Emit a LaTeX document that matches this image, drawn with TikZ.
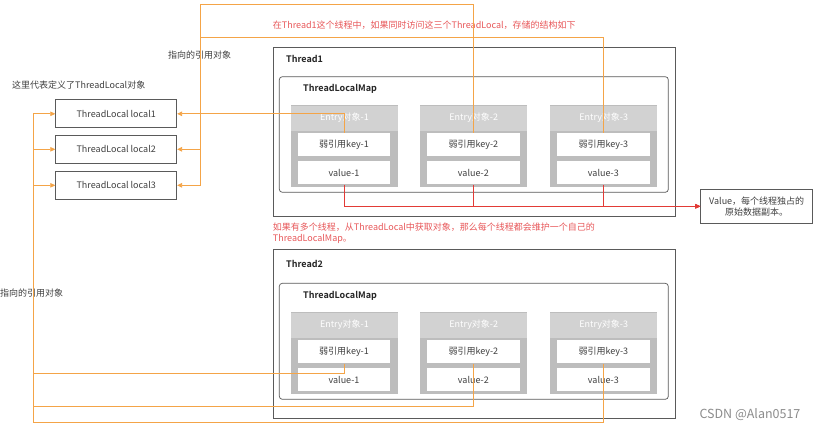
\documentclass[tikz,border=0pt]{standalone}
\usepackage{fontspec}
\setmainfont{Noto Sans CJK SC}[BoldFont={Noto Sans CJK SC Bold}]
\usetikzlibrary{arrows.meta,calc}
\definecolor{ora}{HTML}{F4A447}
\definecolor{redt}{HTML}{E8585A}
\definecolor{redl}{HTML}{E23B36}
\definecolor{hdrgray}{HTML}{D2D2D2}
\definecolor{bodygray}{HTML}{BDBDBD}
\definecolor{txt}{HTML}{404040}
\definecolor{frame}{HTML}{5A5A5A}
\tikzset{
  base/.style={font=\fontsize{9bp}{11bp}\selectfont, text=txt, inner sep=0pt},
  localbox/.style={base, draw=frame, line width=0.8bp, minimum width=121bp, minimum height=28bp},
  hdr/.style={base, fill=hdrgray, text=white, minimum width=107bp, minimum height=25bp},
  cell/.style={base, fill=white, minimum width=92.3bp, minimum height=23.5bp},
  plain/.style={base},
  redtext/.style={base, text=redt},
  bold/.style={base, font=\fontsize{9bp}{11bp}\selectfont\bfseries, text=black!85},
  ref/.style={draw=ora, line width=0.8bp, -{Triangle[length=5bp,width=4.5bp]}},
  val/.style={draw=redl, line width=0.8bp, -{Triangle[length=5bp,width=4.5bp]}},
  threadbox/.style={draw=frame, line width=0.8bp},
  mapbox/.style={draw=frame, line width=0.7bp, rounded corners=3bp},
}
\newcommand\myentry[4]{%
  \fill[bodygray] (#2,#3) rectangle ++(107,81.4);
  \node[hdr, anchor=north west] (#1h#4) at (#2,#3) {Entry对象-#4};
  \node[cell, anchor=north west] (#1k#4) at ($(#2,#3)+(7,27.4)$) {弱引用key-#4};
  \node[cell, anchor=north west] (#1v#4) at ($(#2,#3)+(7,55.4)$) {value-#4};
}
\begin{document}
\begin{tikzpicture}[x=1bp,y=-1bp]
\useasboundingbox[fill=white] (0,0) rectangle (824,430);

% left ThreadLocal boxes
\node[localbox] (l1) at (116.2,113.8) {ThreadLocal local1};
\node[localbox] (l2) at (116.2,149.3) {ThreadLocal local2};
\node[localbox] (l3) at (116.2,185.3) {ThreadLocal local3};
\node[plain, anchor=west] (deflabel) at (12,85) {这里代表定义了ThreadLocal对象};
\node[plain, anchor=west] (refl1) at (168,55) {指向的引用对象};
\node[plain, anchor=west] (refl2) at (0,293.3) {指向的引用对象};

% Thread1
\draw[threadbox] (273,47) rectangle (675,216);
\node[bold, anchor=west] (t1lab) at (286,58.7) {Thread1};
\draw[mapbox] (279.3,76.7) rectangle (668.3,192.3);
\node[bold, anchor=west] (m1lab) at (303,88.7) {ThreadLocalMap};
\myentry{t1}{290.7}{105.3}{1}
\myentry{t1}{420}{105.3}{2}
\myentry{t1}{550}{105.3}{3}

% Thread2
\draw[threadbox] (273,249.3) rectangle (675,418.3);
\node[bold, anchor=west] (t2lab) at (286,264) {Thread2};
\draw[mapbox] (279.3,283.3) rectangle (668.3,399.3);
\node[bold, anchor=west] (m2lab) at (303,296) {ThreadLocalMap};
\myentry{t2}{290.7}{312.3}{1}
\myentry{t2}{420}{312.3}{2}
\myentry{t2}{550}{312.3}{3}

% red texts
\node[redtext, anchor=west] (note1) at (272.7,25.3) {在Thread1这个线程中，如果同时访问这三个ThreadLocal，存储的结构如下};
\node[redtext, anchor=north west, align=left] (note2) at (272.7,222.6) {如果有多个线程，从ThreadLocal中获取对象，那么每个线程都会维护一个自己的\\ThreadLocalMap。};

% Value box
\node[base, draw=frame, line width=0.8bp, minimum width=112bp, minimum height=34bp, align=center] (valbox) at (756.7,206.3) {Value，每个线程独占的\\原始数据副本。};

% orange references, thread1
\coordinate (tA) at (200,4);
\coordinate (tB) at (200,37.3);
\draw[ref] (t1k1.north) |- (l1.east);
\draw[ref] (t1k2.north) |- (tA) |- (l2.east);
\draw[ref] (t1k3.north) |- (tB) |- (l3.east);

% orange references, thread2
\coordinate (bA) at (33.3,373.7);
\coordinate (bB) at (33.3,406.7);
\coordinate (bC) at (33.3,422);
\draw[ref] (t2k1.south) |- (bA) |- (l1.west);
\draw[ref] (t2k2.south) |- (bB) |- (l2.west);
\draw[ref] (t2k3.south) |- (bC) |- (l3.west);

% red value lines
\draw[val] (t1v1.south) |- (valbox.west);
\draw[val] (t1v2.south) |- (valbox.west);
\draw[val] (t1v3.south) |- (valbox.west);

% watermark
\node[base, anchor=west, text=black!45, font=\fontsize{12.5bp}{14bp}\selectfont] (wm) at (699.3,415) {CSDN @Alan0517};
\end{tikzpicture}
\end{document}
